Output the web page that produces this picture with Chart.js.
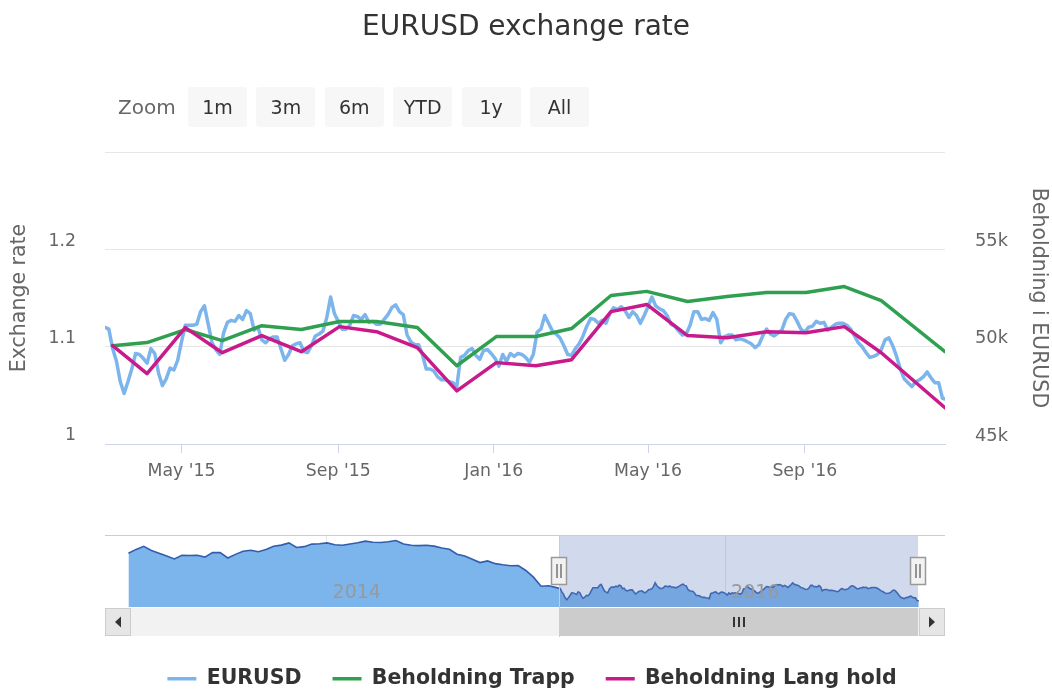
<!DOCTYPE html>
<html lang="en">
<head>
<meta charset="UTF-8" />
<title>EURUSD exchange rate</title>
<script src="https://cdn.jsdelivr.net/npm/chart.js@4.4.0/dist/chart.umd.min.js"></script>
<style>
    body { margin: 0; background: #fff; overflow: hidden; }
    .wrap { position: relative; width: 1052px; height: 690px; overflow: hidden; font-family: "DejaVu Sans", sans-serif; }
    #mainChart { position: absolute; left: 0; top: 0; }
    #navChart { position: absolute; left: 105px; top: 535px; }
    .rs-label { position: absolute; left: 118px; top: 95px; font-size: 20px; line-height: 24px; color: #666; }
    .rs-buttons { position: absolute; left: 188px; top: 87px; display: flex; gap: 9.4px; }
    .rs-buttons div { width: 59px; height: 40px; line-height: 40px; background: #f7f7f7; border-radius: 3px;
        color: #333; font-size: 19px; text-align: center; }
</style>
</head>
<body>
<div class="wrap">
    <canvas id="mainChart" width="1052" height="699"></canvas>
    <canvas id="navChart" width="840" height="102"></canvas>
    <div class="rs-label">Zoom</div>
    <div class="rs-buttons"><div>1m</div><div>3m</div><div>6m</div><div>YTD</div><div>1y</div><div>All</div></div>
</div>

<script>
// EURUSD, one reading every 3 days from 2015-03-02
const eurusdStart = "2015-03-02";
const eurusdStep = 3;
const eurusd = [
    1.120, 1.118, 1.098, 1.085, 1.064, 1.052, 1.064, 1.077, 1.093, 1.092,
    1.088, 1.083, 1.098, 1.093, 1.073, 1.060, 1.067, 1.078, 1.076, 1.086,
    1.105, 1.122, 1.122, 1.122, 1.123, 1.136, 1.142, 1.123, 1.104, 1.097,
    1.092, 1.114, 1.125, 1.127, 1.126, 1.132, 1.128, 1.137, 1.134, 1.117,
    1.120, 1.107, 1.104, 1.108, 1.110, 1.110, 1.098, 1.086, 1.092, 1.101,
    1.103, 1.104, 1.095, 1.094, 1.101, 1.111, 1.113, 1.116, 1.130, 1.151,
    1.134, 1.126, 1.118, 1.118, 1.122, 1.132, 1.131, 1.128, 1.133, 1.125,
    1.126, 1.123, 1.123, 1.128, 1.133, 1.140, 1.143, 1.136, 1.133, 1.112,
    1.105, 1.102, 1.102, 1.092, 1.077, 1.077, 1.075, 1.069, 1.066, 1.066,
    1.064, 1.063, 1.059, 1.089, 1.091, 1.096, 1.098, 1.091, 1.087, 1.096,
    1.097, 1.093, 1.088, 1.080, 1.092, 1.085, 1.093, 1.090, 1.093, 1.092,
    1.089, 1.084, 1.092, 1.115, 1.118, 1.132, 1.124, 1.116, 1.113, 1.109,
    1.101, 1.092, 1.091, 1.098, 1.103, 1.111, 1.121, 1.129, 1.128, 1.124,
    1.127, 1.124, 1.134, 1.140, 1.138, 1.141, 1.137, 1.130, 1.136, 1.132,
    1.124, 1.132, 1.141, 1.151, 1.142, 1.139, 1.137, 1.132, 1.123, 1.121,
    1.116, 1.112, 1.113, 1.122, 1.136, 1.136, 1.128, 1.129, 1.127, 1.135,
    1.128, 1.104, 1.110, 1.112, 1.112, 1.107, 1.108, 1.107, 1.105, 1.103,
    1.099, 1.102, 1.111, 1.118, 1.113, 1.111, 1.114, 1.117, 1.128, 1.134,
    1.133, 1.126, 1.118, 1.115, 1.120, 1.121, 1.126, 1.124, 1.125, 1.117,
    1.120, 1.123, 1.124, 1.124, 1.122, 1.118, 1.111, 1.104, 1.100, 1.094,
    1.089, 1.090, 1.092, 1.097, 1.107, 1.109, 1.101, 1.090, 1.077, 1.067,
    1.063, 1.059, 1.064, 1.066, 1.069, 1.074, 1.068, 1.063, 1.063, 1.047,
    1.046
];

// holdings, roughly monthly
const holdingDates = [
    "2015-03-08", "2015-04-04", "2015-05-04", "2015-06-02", "2015-07-03", "2015-08-03",
    "2015-09-02", "2015-10-01", "2015-11-02", "2015-12-03", "2016-01-03", "2016-02-03",
    "2016-03-02", "2016-04-02", "2016-04-30", "2016-06-01", "2016-07-02", "2016-08-02",
    "2016-09-02", "2016-10-02", "2016-10-31", "2016-12-20"
];
const trapp = [
    50050, 50210, 50880, 50310, 51080, 50880, 51290, 51290, 50980, 49020, 50520, 50520,
    50930, 52630, 52840, 52320, 52580, 52780, 52780, 53090, 52370, 49740
];
const langHold = [
    50050, 48610, 50980, 49690, 50570, 49740, 51030, 50770, 49950, 47730, 49180, 49020,
    49330, 51800, 52170, 50570, 50460, 50770, 50720, 51030, 49690, 46860
];

const viewMin = "2015-03-02";
const viewMax = "2016-12-20";
const xTickDates = ["2015-05-01", "2015-09-01", "2016-01-01", "2016-05-01", "2016-09-01"];
const xTickLabels = ["May '15", "Sep '15", "Jan '16", "May '16", "Sep '16"];

// navigator: older EURUSD history, one reading every 14 days from 2013-01-03
const navStart = "2013-01-03";
const navStep = 14;
const navEarly = [
    1.324, 1.346, 1.364, 1.340, 1.324, 1.308, 1.290, 1.311, 1.310, 1.312,
    1.301, 1.328, 1.327, 1.296, 1.317, 1.335, 1.341, 1.332, 1.345, 1.364,
    1.371, 1.384, 1.357, 1.362, 1.377, 1.379, 1.384, 1.373, 1.370, 1.378,
    1.385, 1.394, 1.388, 1.386, 1.391, 1.398, 1.377, 1.370, 1.368, 1.370,
    1.365, 1.354, 1.347, 1.318, 1.307, 1.289, 1.269, 1.279, 1.263, 1.256,
    1.251, 1.252, 1.223, 1.184, 1.131, 1.134
];
const navMin = "2012-11-21";
const navMax = "2017-02-07";
const navTickDates = ["2014-01-01", "2016-01-01"];
const navTickLabels = ["2014", "2016"];

const DAY = 86400000;
const FONT = '"DejaVu Sans", sans-serif';
Chart.defaults.font.family = FONT;
Chart.defaults.animation = false;

const series = (start, step, vals) =>
    vals.map((v, i) => ({ x: Date.parse(start) + i * step * DAY, y: v }));
const dated = (dates, vals) => vals.map((v, i) => ({ x: Date.parse(dates[i]), y: v }));

const eurusdPoints = series(eurusdStart, eurusdStep, eurusd);

// nudge the legend a little to the right, like the original
const legendShift = {
    id: "legendShift",
    afterLayout(chart) {
        chart.legend.left += 6;
        chart.legend.right += 6;
    },
};

// ---------- main chart ----------
new Chart(document.getElementById("mainChart"), {
    type: "line",
    data: {
        datasets: [
            {
                label: "EURUSD",
                data: eurusdPoints,
                yAxisID: "y",
                borderColor: "#7cb5ec",
                backgroundColor: "#7cb5ec",
                borderWidth: 3.5,
                order: 3,
            },
            {
                label: "Beholdning Trapp",
                data: dated(holdingDates, trapp),
                yAxisID: "y1",
                borderColor: "#2ea04f",
                backgroundColor: "#2ea04f",
                borderWidth: 3.5,
                order: 2,
            },
            {
                label: "Beholdning Lang hold",
                data: dated(holdingDates, langHold),
                yAxisID: "y1",
                borderColor: "#c81a8a",
                backgroundColor: "#c81a8a",
                borderWidth: 3.5,
                order: 1,
            },
        ],
    },
    options: {
        responsive: false,
        devicePixelRatio: 1,
        elements: {
            point: { radius: 0, hoverRadius: 0 },
            line: { tension: 0, borderJoinStyle: "round", borderCapStyle: "round" },
        },
        layout: { padding: { left: 0, right: 0, top: 0, bottom: 0 } },
        plugins: {
            tooltip: { enabled: false },
            title: {
                display: true,
                text: "EURUSD exchange rate",
                color: "#333",
                font: { size: 28, weight: "normal" },
                padding: { top: 11, bottom: 107.4 },
            },
            legend: {
                position: "bottom",
                labels: {
                    color: "#333",
                    font: { size: 20.5, weight: "bold" },
                    usePointStyle: true,
                    pointStyle: "line",
                    pointStyleWidth: 29,
                    padding: 31,
                    sort: (a, b) => a.datasetIndex - b.datasetIndex,
                },
            },
        },
        scales: {
            x: {
                type: "linear",
                min: Date.parse(viewMin),
                max: Date.parse(viewMax),
                afterBuildTicks: (s) => {
                    s.ticks = xTickDates.map((d) => ({ value: Date.parse(d) }));
                },
                afterFit: (s) => {
                    s.height = s.chart.height - s.chart.legend.height - 444;
                },
                ticks: {
                    autoSkip: false,
                    maxRotation: 0,
                    color: "#666",
                    font: { size: 17.3 },
                    padding: 8,
                    callback: (v, i) => xTickLabels[i],
                },
                grid: { drawOnChartArea: false, drawTicks: true, tickLength: 9, color: "#ccd6eb" },
                border: { color: "#ccd6eb" },
            },
            y: {
                position: "left",
                min: 1,
                max: 1.3,
                afterFit: (s) => { s.width = 105; },
                ticks: {
                    stepSize: 0.1,
                    color: "#666",
                    font: { size: 17.3 },
                    padding: 29,
                    labelOffset: -8,
                    callback: (v) => (v > 1.25 ? "" : String(Math.round(v * 10) / 10)),
                },
                grid: { color: "#e6e6e6", drawTicks: false },
                border: { display: false },
                title: {
                    display: true,
                    text: "Exchange rate",
                    color: "#666",
                    font: { size: 20.5 },
                    padding: { top: 7, bottom: 0 },
                },
            },
            y1: {
                position: "right",
                min: 45000,
                max: 60000,
                afterFit: (s) => { s.width = 107; },
                ticks: {
                    stepSize: 5000,
                    color: "#666",
                    font: { size: 17.8 },
                    padding: 30,
                    labelOffset: -8,
                    callback: (v) => (v >= 60000 ? "" : v / 1000 + "k"),
                },
                grid: { drawOnChartArea: false, drawTicks: false },
                border: { display: false },
                title: {
                    display: true,
                    text: "Beholdning i EURUSD",
                    color: "#666",
                    font: { size: 20.5 },
                    padding: { top: 1, bottom: 0 },
                },
            },
        },
    },
    plugins: [legendShift],
});

// ---------- navigator ----------
const navigatorParts = {
    id: "navigatorParts",
    afterDatasetsDraw(chart) {
        const { ctx, chartArea: a, scales: { x } } = chart;
        const x0 = Math.round(x.getPixelForValue(Date.parse(viewMin)));
        const x1 = Math.round(x.getPixelForValue(Date.parse(viewMax)));
        const sy = a.bottom + 1;
        const sh = 28;
        ctx.save();

        // selected range mask
        ctx.fillStyle = "rgba(102,133,194,0.3)";
        ctx.fillRect(x0, a.top, x1 - x0, a.bottom - a.top);

        // scrollbar track + thumb
        ctx.fillStyle = "#f2f2f2";
        ctx.fillRect(a.left, sy, a.right - a.left, sh);
        ctx.fillStyle = "#cccccc";
        ctx.fillRect(x0, sy, x1 - x0, sh);

        // grip
        ctx.strokeStyle = "#333";
        ctx.lineWidth = 2;
        const gc = Math.round((x0 + x1) / 2);
        ctx.beginPath();
        [-5, 0, 5].forEach((d) => {
            ctx.moveTo(gc + d, sy + 9);
            ctx.lineTo(gc + d, sy + 19);
        });
        ctx.stroke();

        // arrow buttons
        ctx.lineWidth = 1;
        [[a.left, -1], [a.right - 26, 1]].forEach(([bx, dir]) => {
            ctx.fillStyle = "#e6e6e6";
            ctx.strokeStyle = "#cccccc";
            ctx.fillRect(bx, sy, 26, sh);
            ctx.strokeRect(bx + 0.5, sy + 0.5, 25, sh - 1);
            const cx = bx + 13, cy = sy + 14;
            ctx.fillStyle = "#333";
            ctx.beginPath();
            ctx.moveTo(cx + dir * 3, cy);
            ctx.lineTo(cx - dir * 3, cy - 5.5);
            ctx.lineTo(cx - dir * 3, cy + 5.5);
            ctx.closePath();
            ctx.fill();
        });

        // outline
        ctx.strokeStyle = "#cccccc";
        ctx.beginPath();
        ctx.moveTo(a.left, a.top + 0.5);
        ctx.lineTo(a.right, a.top + 0.5);
        ctx.moveTo(x0 + 0.5, a.top);
        ctx.lineTo(x0 + 0.5, chart.height);
        ctx.stroke();

        // handles
        [x0, x1].forEach((hx) => {
            ctx.fillStyle = "#f2f2f2";
            ctx.strokeStyle = "#999";
            ctx.lineWidth = 1.5;
            ctx.fillRect(hx - 8, 22, 16, 28);
            ctx.strokeRect(hx - 7.5, 22.5, 15, 27);
            ctx.strokeStyle = "#555";
            ctx.lineWidth = 1.2;
            ctx.beginPath();
            ctx.moveTo(hx - 2, 29); ctx.lineTo(hx - 2, 43);
            ctx.moveTo(hx + 2, 29); ctx.lineTo(hx + 2, 43);
            ctx.stroke();
        });
        ctx.restore();
    },
};

new Chart(document.getElementById("navChart"), {
    type: "line",
    data: {
        datasets: [
            {
                label: "EURUSD",
                data: series(navStart, navStep, navEarly).concat(eurusdPoints),
                borderColor: "#335cad",
                backgroundColor: "#7cb5ec",
                borderWidth: 1.6,
                fill: "start",
            },
        ],
    },
    options: {
        responsive: false,
        devicePixelRatio: 1,
        elements: { point: { radius: 0, hoverRadius: 0 }, line: { tension: 0 } },
        layout: { padding: { left: 0, right: 0, top: 0, bottom: 30 } },
        plugins: { legend: { display: false }, tooltip: { enabled: false } },
        scales: {
            x: {
                type: "linear",
                min: Date.parse(navMin),
                max: Date.parse(navMax),
                afterBuildTicks: (s) => {
                    s.ticks = navTickDates.map((d) => ({ value: Date.parse(d) }));
                },
                afterFit: (s) => { s.height = 0; },
                ticks: {
                    z: 1,
                    mirror: true,
                    autoSkip: false,
                    maxRotation: 0,
                    align: "start",
                    labelOffset: 6,
                    padding: 2.6,
                    color: "#999",
                    font: { size: 19 },
                    callback: (v, i) => navTickLabels[i],
                },
                grid: { color: "#e6e6e6", drawTicks: false },
                border: { display: false },
            },
            y: { display: false, min: 1.01, max: 1.43 },
        },
    },
    plugins: [navigatorParts],
});
</script>
</body>
</html>
